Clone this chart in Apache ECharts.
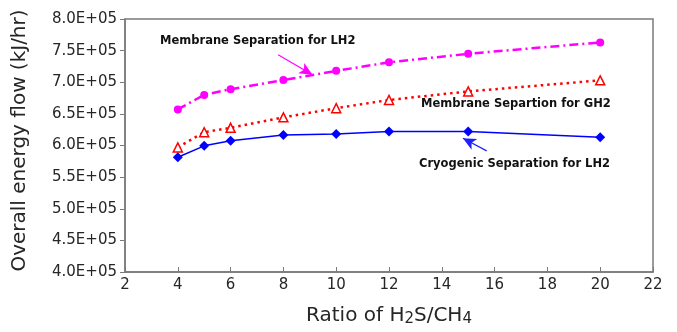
<!DOCTYPE html>
<html><head><meta charset="utf-8">
<script src="https://cdn.jsdelivr.net/npm/echarts@6/dist/echarts.min.js"></script>
<style>html,body{margin:0;padding:0;background:#fff}#c{width:677px;height:332px}</style>
</head><body><div id="c"></div>
<script>
var ratios = [4, 5, 6, 8, 10, 12, 15, 20];
var membraneLH2 = [657000, 680000, 689000, 703500, 718000, 731500, 745000, 763000];
var membraneGH2 = [597000, 621000, 628000, 644500, 659000, 672000, 685500, 703000];
var cryogenicLH2 = [581500, 599500, 607500, 616500, 618000, 622000, 622000, 613000];
var xTicks = [2, 4, 6, 8, 10, 12, 14, 16, 18, 20, 22];
var yTicks = [400000, 450000, 500000, 550000, 600000, 650000, 700000, 750000, 800000];
var labelLH2 = 'Membrane Separation for LH2';
var labelGH2 = 'Membrane Separtion for GH2';
var labelCryo = 'Cryogenic Separation for LH2';
var arrowLH2 = [[7.8, 743500], [9.1, 712000]];
var arrowCryo = [[15.7, 591500], [14.8, 611500]];

function pairs(xs, ys){ return xs.map(function(x,i){return [x, ys[i]];}); }
function fmtE(v){
  var e = Math.floor(Math.log10(v));
  var m = v / Math.pow(10, e);
  return m.toFixed(1) + 'E+' + (e < 10 ? '0' + e : e);
}
var axisCol = '#7a7a7a';
var font = 'DejaVu Sans, Verdana, sans-serif';
var chart = echarts.init(document.getElementById('c'));
function arrowLine(pts, color){
  return {
    silent: true, symbol: ['none', 'arrow'], symbolSize: [9, 13],
    lineStyle: {color: color, width: 1.2, type: 'solid'},
    label: {show: false},
    data: [[{coord: pts[0]}, {coord: pts[1]}]]
  };
}
chart.setOption({
  animation: false,
  grid: {left: 125, right: 24, top: 19, bottom: 58, show: true, borderColor: axisCol, borderWidth: 1.5},
  xAxis: {
    type: 'value', min: 2, max: 22, interval: 2,
    axisLine: {show: true, lineStyle: {color: axisCol, width: 1.5}},
    axisTick: {show: true, inside: true, length: 5, lineStyle: {color: axisCol}},
    splitLine: {show: false},
    axisLabel: {color: '#262626', fontSize: 15, fontFamily: font, margin: 6},
    name: 'Ratio of H{s|2}S/CH{s|4}', nameLocation: 'middle', nameGap: 33,
    nameTextStyle: {color: '#262626', fontSize: 20, fontFamily: font,
      rich: {s: {fontSize: 15, fontFamily: font, color: '#262626', padding: [7, 0, 0, 0]}}}
  },
  yAxis: {
    type: 'value', min: 400000, max: 800000, interval: 50000,
    axisLine: {show: true, lineStyle: {color: axisCol, width: 1.5}},
    axisTick: {show: true, inside: false, length: 5, lineStyle: {color: axisCol}},
    splitLine: {show: false},
    axisLabel: {color: '#262626', fontSize: 15, fontFamily: font, margin: 8, formatter: fmtE},
    name: 'Overall energy flow (kJ/hr)', nameLocation: 'middle', nameGap: 95,
    nameTextStyle: {color: '#262626', fontSize: 20, fontFamily: font, padding: [0, 0, 0, 10]}
  },
  series: [
    {
      type: 'line', data: pairs(ratios, membraneLH2), symbol: 'circle', symbolSize: 8,
      itemStyle: {color: '#ff00ff'},
      lineStyle: {color: '#ff00ff', width: 2.5, type: [9, 4, 2, 4]},
      markLine: arrowLine(arrowLH2, '#ff00ff')
    },
    {
      type: 'line', data: pairs(ratios, membraneGH2), symbol: 'triangle', symbolSize: 9,
      itemStyle: {color: '#ffffff', borderColor: '#ff0000', borderWidth: 1.5},
      lineStyle: {color: '#ff0000', width: 2.5, type: [2.5, 4]}
    },
    {
      type: 'line', data: pairs(ratios, cryogenicLH2), symbol: 'diamond', symbolSize: 10,
      itemStyle: {color: '#0000ff'},
      lineStyle: {color: '#0000ff', width: 1.5, type: 'solid'},
      markLine: arrowLine(arrowCryo, '#2020ff')
    }
  ],
  graphic: [
    {type: 'text', left: 160, top: 35, style: {text: labelLH2, font: 'bold 11.5px ' + font, fill: '#111'}},
    {type: 'text', left: 421, top: 98, style: {text: labelGH2, font: 'bold 11.5px ' + font, fill: '#111'}},
    {type: 'text', left: 419, top: 158, style: {text: labelCryo, font: 'bold 11.5px ' + font, fill: '#111'}}
  ]
});
</script>
</body></html>
